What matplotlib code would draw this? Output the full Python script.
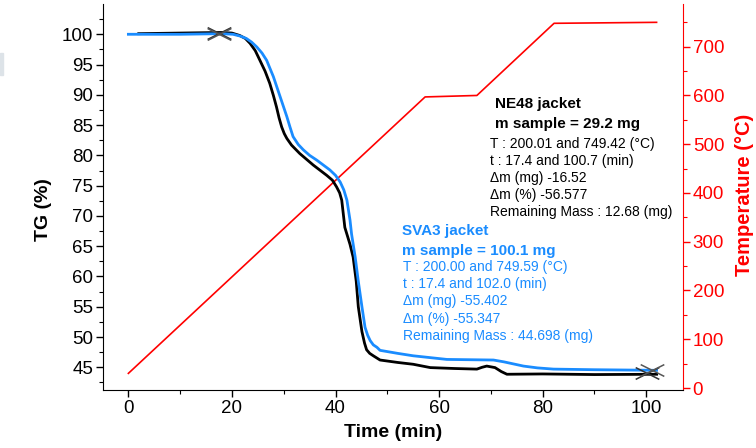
import matplotlib
matplotlib.use("Agg")
import matplotlib.pyplot as plt
from matplotlib.path import Path
from matplotlib.patches import Rectangle

plt.rcParams['font.family'] = ['Liberation Sans', 'DejaVu Sans']

# TG curve NE48 jacket (black)
t_ne48 = [2, 10, 18, 20, 21.5, 22.6, 23.5, 24.5, 25.4, 26.4, 27.3, 28.0, 28.6, 29.1, 29.6, 30.1,
          30.6, 31.5, 33.1, 35.7, 38.3, 39.4, 40.2, 40.8, 41.2, 41.8, 42.8, 43.4, 44.0, 44.4,
          45.1, 45.6, 46.0, 46.6, 47.3, 48.6, 52, 55, 58.3, 63, 67.3, 68.3, 69.2, 70.8, 72,
          73.1, 80, 90, 102]
tg_ne48 = [100.1, 100.2, 100.3, 100.2, 99.8, 99.3, 98.5, 97.3, 95.7, 93.9, 91.9, 89.9, 88.0, 86.2,
           84.7, 83.6, 82.8, 81.7, 80.3, 78.4, 76.7, 75.9, 74.8, 73.8, 72.6, 68.1, 65.3, 63.2,
           59.2, 55.0, 50.9, 49.0, 47.9, 47.3, 46.9, 46.2, 45.8, 45.5, 44.95, 44.8, 44.7, 45.0,
           45.2, 44.95, 44.3, 43.85, 43.9, 43.8, 43.85]

# TG curve SVA3 jacket (blue)
t_sva3 = [0, 10, 18, 20.2, 21.6, 22.8, 23.8, 24.8, 25.8, 26.7, 28.0, 29.3, 30.6, 31.2, 31.8,
          32.8, 33.8, 35.0, 36.4, 38.9, 40.0, 40.9, 41.6, 42.2, 42.8, 43.1, 43.8, 44.4, 45.1,
          45.7, 46.2, 46.7, 47.3, 48.0, 48.6, 52, 55, 61.5, 70.5, 72.5, 76.3, 79, 82.1, 90, 102]
tg_sva3 = [100.0, 100.0, 100.1, 100.0, 99.7, 99.3, 98.7, 97.9, 96.9, 95.7, 93.0, 89.7, 86.4, 84.7,
           83.1, 81.8, 80.9, 80.0, 79.2, 77.6, 76.7, 75.6, 74.3, 72.6, 69.3, 67.0, 63.2, 59.2,
           55.0, 51.6, 50.3, 49.4, 48.7, 48.3, 47.8, 47.3, 46.9, 46.3, 46.2, 45.9, 45.2, 44.9,
           44.7, 44.6, 44.5]

# temperature programme (red, right axis)
t_temp = [0, 57.3, 67.3, 82.2, 102]
temp = [30, 597, 600, 748, 750]

# analysis markers (start / end)
mark_t_ne48 = [17.5, 100.1]
mark_tg_ne48 = [100.2, 44.0]
mark_t_sva3 = [17.5, 101.1]
mark_tg_sva3 = [100.0, 44.6]

ne48_text = ["T : 200.01 and 749.42 (°C)", "t : 17.4 and 100.7 (min)", "Δm (mg) -16.52",
             "Δm (%) -56.577", "Remaining Mass : 12.68 (mg)"]
sva3_text = ["T : 200.00 and 749.59 (°C)", "t : 17.4 and 102.0 (min)", "Δm (mg) -55.402",
             "Δm (%) -55.347", "Remaining Mass : 44.698 (mg)"]

blue = '#1a8cff'
W, H = 756, 448

fig = plt.figure(figsize=(7.56, 4.48), dpi=100)
ax = fig.add_axes([103 / W, 1 - 390 / H, 580 / W, 386 / H])
ax2 = ax.twinx()

ax2.plot(t_temp, temp, color='red', lw=1.2)
ax.plot(t_ne48, tg_ne48, color='black', lw=2, zorder=3)
ax.plot(t_sva3, tg_sva3, color=blue, lw=2, zorder=4)

cross = Path([(-1, -0.5), (1, 0.5), (-1, 0.5), (1, -0.5)],
             [Path.MOVETO, Path.LINETO, Path.MOVETO, Path.LINETO])
ax.plot(mark_t_ne48, mark_tg_ne48, ls='none', marker=cross, ms=17, mec='#333333', mew=1.1, zorder=5)
ax.plot(mark_t_sva3, mark_tg_sva3, ls='none', marker=cross, ms=17, mec='#555555', mew=1.1, zorder=5)

ax.set_zorder(ax2.get_zorder() + 1)
ax.patch.set_visible(False)

ax.set_xlim(-4.9, 107.1)
ax.set_ylim(41.25, 105)
ax2.set_ylim(-4.1, 787.6)
ax.set_xticks([0, 20, 40, 60, 80, 100])
ax.set_xticks(range(10, 101, 20), minor=True)
ax.set_yticks(range(45, 101, 5))
ax.set_yticks([42.5 + 5 * i for i in range(13)], minor=True)
ax2.set_yticks(range(0, 701, 100))
ax2.set_yticks(range(50, 751, 100), minor=True)

for a in (ax, ax2):
    a.spines['top'].set_visible(False)
ax.spines['right'].set_visible(False)
ax2.spines['left'].set_visible(False)
ax2.spines['bottom'].set_visible(False)
ax2.spines['right'].set_color('red')

ax.tick_params(which='major', direction='out', length=5, width=1, labelsize=13.5, pad=2)
ax.tick_params(which='minor', direction='out', length=3, width=0.8)
ax2.tick_params(which='major', direction='out', length=5, width=1, labelsize=13.5, pad=2,
                colors='red')
ax2.tick_params(which='minor', direction='out', length=3, width=0.8, colors='red')

fig.text(43 / W, 1 - 210 / H, 'TG (%)', rotation=90, fontsize=14, fontweight='bold',
         ha='center', va='center')
fig.text(393 / W, 1 - 432 / H, 'Time (min)', fontsize=14, fontweight='bold',
         ha='center', va='center')
fig.text(745 / W, 1 - 195 / H, 'Temperature (°C)', rotation=90, fontsize=14.5,
         fontweight='bold', color='red', ha='center', va='center')

fig.text(495 / W, 1 - 104 / H, 'NE48 jacket', fontsize=11, fontweight='bold', va='center')
fig.text(495 / W, 1 - 124 / H, 'm sample = 29.2 mg', fontsize=11, fontweight='bold', va='center')
for i, s in enumerate(ne48_text):
    fig.text(490 / W, 1 - (144.3 + 17 * i) / H, s, fontsize=10, va='center')

fig.text(402 / W, 1 - 231 / H, 'SVA3 jacket', fontsize=11, fontweight='bold', va='center',
         color=blue)
fig.text(402 / W, 1 - 251 / H, 'm sample = 100.1 mg', fontsize=11, fontweight='bold',
         va='center', color=blue)
for i, s in enumerate(sva3_text):
    fig.text(403 / W, 1 - (267 + 17.2 * i) / H, s, fontsize=10, va='center', color=blue)

fig.patches.append(Rectangle((0, 1 - 75 / H), 3 / W, 22 / H, transform=fig.transFigure,
                             color='#dde3e8', figure=fig))

fig.savefig('out.png', dpi=100)
